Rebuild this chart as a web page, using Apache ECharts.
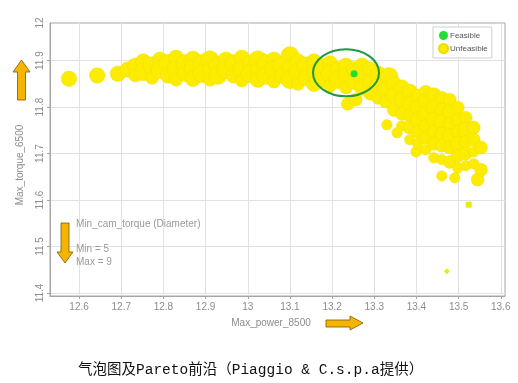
<!DOCTYPE html>
<html><head><meta charset="utf-8">
<script src="https://cdn.jsdelivr.net/npm/echarts@6/dist/echarts.min.js"></script>
<style>html,body{margin:0;padding:0;background:#fff}#c{width:518px;height:383px}</style>
</head><body><div id="c"></div>
<script>
// Unfeasible designs: Max_power_8500, Max_torque_6500, Min_cam_torque (diameter 5..9)
const power = [12.576,12.643,12.692,
12.716,12.733,12.733,12.752,12.752,12.773,12.773,12.792,12.792,12.811,12.811,12.830,12.830,12.830,
12.851,12.851,12.870,12.870,12.870,12.891,12.891,12.910,12.910,12.910,12.929,12.929,12.948,12.948,
12.967,12.967,12.986,12.986,12.986,13.005,13.005,13.024,13.024,13.024,13.043,13.043,13.062,13.062,13.062,
13.081,13.081,13.100,13.100,13.100,13.119,13.119,13.119,13.138,13.138,13.157,13.157,13.157,13.176,13.176,
13.195,13.195,13.195,13.214,13.214,13.233,13.233,13.233,13.252,13.252,13.271,13.271,13.271,13.290,13.290,13.290,
13.309,13.309,13.309,13.335,13.327,13.327,13.237,13.256,13.346,13.346,13.346,13.365,13.365,13.365,13.365,
13.330,13.354,13.384,13.384,13.384,13.384,13.384,13.399,13.403,13.403,13.403,13.403,13.403,
13.422,13.422,13.422,13.422,13.422,13.422,13.441,13.441,13.441,13.441,13.441,13.441,
13.460,13.460,13.460,13.460,13.460,13.460,13.460,13.479,13.479,13.479,13.479,13.479,13.479,13.491,
13.498,13.498,13.498,13.498,13.498,13.498,13.517,13.517,13.517,13.517,13.517,
13.536,13.536,13.536,13.536,13.545,13.553,13.553];
const torque = [11.861,11.868,11.872,
11.881,11.889,11.868,11.898,11.876,11.889,11.863,11.902,11.881,11.894,11.868,11.906,11.881,11.859,
11.894,11.872,11.904,11.883,11.861,11.894,11.872,11.902,11.881,11.859,11.889,11.868,11.902,11.881,
11.894,11.868,11.906,11.881,11.857,11.894,11.872,11.902,11.881,11.859,11.894,11.868,11.902,11.881,11.855,
11.889,11.868,11.911,11.885,11.859,11.898,11.876,11.850,11.889,11.863,11.898,11.876,11.850,11.885,11.859,
11.894,11.872,11.846,11.881,11.859,11.889,11.868,11.842,11.881,11.855,11.889,11.868,11.842,11.881,11.855,11.829,
11.872,11.846,11.820,11.866,11.838,11.812,11.807,11.816,11.850,11.825,11.794,11.842,11.816,11.786,11.760,
11.762,11.745,11.833,11.807,11.781,11.756,11.730,11.704,11.825,11.799,11.773,11.747,11.721,
11.833,11.812,11.786,11.760,11.734,11.708,11.825,11.799,11.773,11.747,11.721,11.691,
11.820,11.794,11.769,11.743,11.717,11.687,11.652,11.816,11.790,11.764,11.738,11.713,11.682,11.648,
11.799,11.773,11.747,11.721,11.695,11.669,11.777,11.751,11.725,11.700,11.674,
11.756,11.730,11.704,11.678,11.644,11.713,11.665];
const camTorque = [8,8,8,
8,8,7,8,9,9,7,8,9,9,8,8,9,7,
9,8,8,9,8,9,9,9,8,7,9,9,8,9,
9,8,8,9,7,8,9,9,8,8,9,9,8,9,7,
9,8,9,8,9,8,9,7,9,8,8,8,8,9,8,
8,9,7,8,9,8,8,7,8,8,8,9,8,8,8,7,
8,8,7,9,8,7,7,7,8,8,7,8,8,7,6,
6,6,8,8,7,7,6,6,7,8,8,7,6,
7,8,8,7,7,6,8,8,8,7,7,6,
7,7,8,7,7,6,6,7,8,7,8,7,7,6,
7,7,7,8,7,6,7,8,7,7,6,
7,7,6,6,7,7,7];
// isolated small unfeasible designs
const outPower = [13.524, 13.472];
const outTorque = [11.590, 11.447];
const outShape = ['rect', 'diamond'];
// feasible design
const feasPower = [13.252];
const feasTorque = [11.872];

const xTicks = [12.6,12.7,12.8,12.9,13.0,13.1,13.2,13.3,13.4,13.5,13.6];
const yTicks = [11.4,11.5,11.6,11.7,11.8,11.9];

const chart = echarts.init(document.getElementById('c'));
const mainData = power.map((p,i)=>[p, torque[i], camTorque[i]]);
const outData = outPower.map((p,i)=>({value:[p,outTorque[i]], symbol:outShape[i]}));
const feasData = feasPower.map((p,i)=>[p, feasTorque[i]]);
const gray = '#8c8c8c';
const font = 'Liberation Sans';

function arrow(points){
  return {type:'polygon', shape:{points}, style:{fill:'#f4b400', stroke:'#7a5c00', lineWidth:0.8}, z:10};
}

chart.setOption({
  animation:false,
  backgroundColor:'#fff',
  grid:{left:50, right:13, top:23, bottom:87, show:true, borderColor:'#a6a6a6', borderWidth:1},
  legend:{
    orient:'vertical', left:433, top:27, width:64,
    data:['Feasible','Unfeasible'],
    backgroundColor:'#fff', borderColor:'#cfcfcf', borderWidth:1, padding:[4,4,4,5],
    itemWidth:9, itemHeight:9, itemGap:3, icon:'circle',
    textStyle:{fontSize:8, color:'#555', fontFamily:font, padding:[0,0,0,-3]}
  },
  xAxis:{
    type:'value', min:12.531, max:13.61,
    axisLine:{show:true, lineStyle:{color:'#a6a6a6'}},
    axisTick:{show:true, customValues:xTicks, length:3, inside:false, lineStyle:{color:'#a6a6a6'}},
    axisLabel:{customValues:xTicks, color:gray, fontSize:10, fontFamily:font, margin:6},
    splitLine:{show:true, lineStyle:{color:'#e2e2e2'}}
  },
  yAxis:{
    type:'value', min:11.3935, max:11.981,
    axisLine:{show:true, lineStyle:{color:'#a6a6a6'}},
    axisTick:{show:true, customValues:yTicks, length:3, lineStyle:{color:'#a6a6a6'}},
    axisLabel:{customValues:yTicks.concat([11.981]), rotate:90, color:gray, fontSize:10, fontFamily:font, margin:5,
      formatter:v=> v>11.95 ? '12' : v.toFixed(1)},
    splitLine:{show:true, lineStyle:{color:'#e2e2e2'}}
  },
  series:[
    {name:'Unfeasible', type:'scatter', data:mainData,
     symbolSize:v=> 8 + (v[2]-5)*2.5,
     itemStyle:{color:'#fcec00', borderColor:'#eedb00', borderWidth:0.4, opacity:1}, z:2},
    {name:'Unfeasible', type:'scatter', data:outData, symbolSize:6,
     itemStyle:{color:'#e2ee10', opacity:1}, z:2},
    {name:'Feasible', type:'scatter', data:feasData, symbolSize:7,
     itemStyle:{color:'#22dd33', opacity:1}, z:3}
  ],
  graphic:[
    {type:'ellipse', shape:{cx:346, cy:72.7, rx:33, ry:23.5}, style:{fill:'none', stroke:'#1f9a3e', lineWidth:2}, z:20},
    {type:'text', x:271, y:323, style:{text:'Max_power_8500', fill:gray, font:'10px '+font, align:'center', verticalAlign:'middle'}},
    {type:'text', x:20, y:165, rotation:Math.PI/2, style:{text:'Max_torque_6500', fill:gray, font:'10px '+font, align:'center', verticalAlign:'middle'}},
    {type:'text', x:76, y:224, style:{text:'Min_cam_torque (Diameter)', fill:'#9a9a9a', font:'10px '+font, verticalAlign:'middle'}, z:15},
    {type:'text', x:76, y:249, style:{text:'Min = 5', fill:'#9a9a9a', font:'10px '+font, verticalAlign:'middle'}, z:15},
    {type:'text', x:76, y:262, style:{text:'Max = 9', fill:'#9a9a9a', font:'10px '+font, verticalAlign:'middle'}, z:15},
    arrow([[21.5,60],[30,72],[25.5,72],[25.5,100],[17.5,100],[17.5,72],[13,72]]),
    arrow([[61,223],[69,223],[69,252],[73,252],[65,263],[57,252],[61,252]]),
    arrow([[326,320],[350,320],[350,316],[363,323],[350,330],[350,327],[326,327]]),
    {type:'text', x:78, y:370, style:{text:'气泡图及Pareto前沿（Piaggio & C.s.p.a提供）', fill:'#111', font:'14.5px "Liberation Mono", "Noto Sans CJK SC"', align:'left', verticalAlign:'middle'}}
  ]
});
</script></body></html>
